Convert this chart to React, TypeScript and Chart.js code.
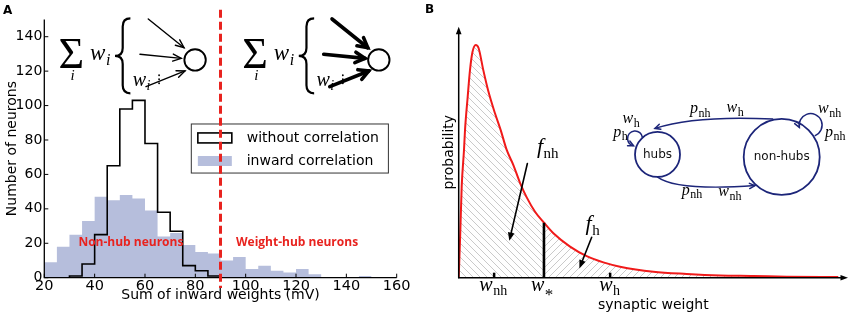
import React, { useEffect, useRef } from "react";
import { Chart, registerables } from "chart.js";
Chart.register(...registerables);

// ---------------- Panel A data ----------------
const binStarts = [20, 25, 30, 35, 40, 45, 50, 55, 60, 65, 70, 75, 80, 85, 90, 95, 100, 105, 110, 115, 120, 125, 130, 135, 140, 145];
const BIN_WIDTH = 5;
const withoutCorrelation = [0, 0, 1, 8, 25, 65, 98, 103, 78, 38, 27, 7, 4, 1, 0, 0, 0, 0, 0, 0, 0, 0, 0, 0, 0, 0];
const inwardCorrelation = [9, 18, 25, 33, 47, 45, 48, 46, 39, 24, 26, 19, 15, 14, 10, 12, 5, 7, 4, 3, 5, 2, 0, 0, 0, 1];
const xTicksA = [20, 40, 60, 80, 100, 120, 140, 160];
const yTicksA = [0, 20, 40, 60, 80, 100, 120, 140];
const hubThreshold = 90;

// ---------------- Panel B data ----------------
const synapticWeight = [0, 0.04, 0.077, 0.136, 0.162, 0.231, 0.29, 0.354, 0.437, 0.51, 0.632, 0.753, 0.932, 1.079, 1.233, 1.404, 1.575, 1.747, 1.961, 2.19, 2.432, 2.86, 3.288, 3.716, 4.144, 5.0, 5.856, 6.712, 7.568, 8.425, 9.75];
const probabilityDensity = [0, 0.178, 0.363, 0.509, 0.588, 0.721, 0.827, 0.899, 0.927, 0.915, 0.827, 0.748, 0.655, 0.588, 0.509, 0.449, 0.378, 0.32, 0.263, 0.219, 0.177, 0.124, 0.086, 0.061, 0.044, 0.024, 0.015, 0.009, 0.007, 0.004, 0.003];
const wNh = 0.91;
const wStar = 2.19;
const wH = 3.89;

const SANS = '"DejaVu Sans", sans-serif';
const SERIF = '"Liberation Serif", "DejaVu Serif", serif';
const RED = "#e8231f";
const NAVY = "#1c2579";
const SHADE = "#b6bedc";

function stepPoints(values: number[]) {
  const pts = binStarts.map((x, i) => ({ x, y: values[i] }));
  pts.push({ x: binStarts[binStarts.length - 1] + BIN_WIDTH, y: values[values.length - 1] });
  return pts;
}

function drawMath(
  ctx: CanvasRenderingContext2D, x: number, y: number, base: string, sub: string,
  size: number, subSize: number, color = "#000", subItalic = false, subDrop = 0.22
) {
  ctx.save();
  ctx.fillStyle = color;
  ctx.textAlign = "left";
  ctx.textBaseline = "alphabetic";
  ctx.font = `italic ${size}px ${SERIF}`;
  ctx.fillText(base, x, y);
  const w = ctx.measureText(base).width;
  if (sub) {
    ctx.font = `${subItalic ? "italic " : ""}${subSize}px ${SERIF}`;
    ctx.fillText(sub, x + w + 0.5, y + size * subDrop);
  }
  ctx.restore();
}

type ArrowOpt = { width: number; head: number; spread: number; color: string; filled: boolean };

function drawHead(ctx: CanvasRenderingContext2D, x2: number, y2: number, a: number, opt: ArrowOpt) {
  const p1x = x2 - opt.head * Math.cos(a - opt.spread);
  const p1y = y2 - opt.head * Math.sin(a - opt.spread);
  const p2x = x2 - opt.head * Math.cos(a + opt.spread);
  const p2y = y2 - opt.head * Math.sin(a + opt.spread);
  ctx.save();
  ctx.strokeStyle = opt.color;
  ctx.fillStyle = opt.color;
  ctx.lineWidth = opt.width;
  ctx.lineCap = "round";
  ctx.beginPath();
  ctx.moveTo(p1x, p1y);
  ctx.lineTo(x2, y2);
  ctx.lineTo(p2x, p2y);
  if (opt.filled) {
    ctx.closePath();
    ctx.fill();
  } else {
    ctx.stroke();
  }
  ctx.restore();
}

function arrow(ctx: CanvasRenderingContext2D, x1: number, y1: number, x2: number, y2: number, opt: ArrowOpt) {
  const a = Math.atan2(y2 - y1, x2 - x1);
  ctx.save();
  ctx.strokeStyle = opt.color;
  ctx.lineWidth = opt.width;
  ctx.lineCap = "round";
  const ex = opt.filled ? x2 - Math.cos(a) * opt.head * 0.7 : x2;
  const ey = opt.filled ? y2 - Math.sin(a) * opt.head * 0.7 : y2;
  ctx.beginPath();
  ctx.moveTo(x1, y1);
  ctx.lineTo(ex, ey);
  ctx.stroke();
  ctx.restore();
  drawHead(ctx, x2, y2, a, opt);
}

function brace(ctx: CanvasRenderingContext2D, xTip: number, xArm: number, yTop: number, yBot: number) {
  const xm = (xTip + xArm) / 2;
  const ym = (yTop + yBot) / 2;
  const r = 8;
  ctx.save();
  ctx.strokeStyle = "#000";
  ctx.lineWidth = 2.2;
  ctx.beginPath();
  ctx.moveTo(xArm, yTop);
  ctx.quadraticCurveTo(xm, yTop, xm, yTop + r);
  ctx.lineTo(xm, ym - r);
  ctx.quadraticCurveTo(xm, ym, xTip, ym);
  ctx.quadraticCurveTo(xm, ym, xm, ym + r);
  ctx.lineTo(xm, yBot - r);
  ctx.quadraticCurveTo(xm, yBot, xArm, yBot);
  ctx.stroke();
  ctx.restore();
}

function hatchPattern(ctx: CanvasRenderingContext2D, dir: "back" | "fwd") {
  const c = document.createElement("canvas");
  const n = 7;
  c.width = n;
  c.height = n;
  const g = c.getContext("2d")!;
  g.strokeStyle = "#bdbdbd";
  g.lineWidth = 0.8;
  g.beginPath();
  if (dir === "back") {
    g.moveTo(-1, -1); g.lineTo(n + 1, n + 1);
    g.moveTo(-1, n - 1); g.lineTo(1, n + 1);
    g.moveTo(n - 1, -1); g.lineTo(n + 1, 1);
  } else {
    g.moveTo(-1, n + 1); g.lineTo(n + 1, -1);
    g.moveTo(-1, 1); g.lineTo(1, -1);
    g.moveTo(n - 1, n + 1); g.lineTo(n + 1, n - 1);
  }
  g.stroke();
  return ctx.createPattern(c, "repeat")!;
}

// ---------------- Panel A decorations ----------------
const decorA = {
  id: "decorA",
  afterDraw(chart: any) {
    const ctx: CanvasRenderingContext2D = chart.ctx;
    const sx = chart.scales.x;
    const sy = chart.scales.y;
    const X = (v: number) => sx.getPixelForValue(v);
    const Y = (v: number) => sy.getPixelForValue(v);
    ctx.save();
    // spines
    ctx.strokeStyle = "#000";
    ctx.lineWidth = 1.3;
    ctx.beginPath();
    ctx.moveTo(X(20), Y(150));
    ctx.lineTo(X(20), Y(0));
    ctx.lineTo(X(160), Y(0));
    ctx.stroke();
    ctx.lineWidth = 1;
    ctx.beginPath();
    xTicksA.forEach((v) => { ctx.moveTo(X(v), Y(0)); ctx.lineTo(X(v), Y(0) - 4); });
    yTicksA.forEach((v) => { ctx.moveTo(X(20), Y(v)); ctx.lineTo(X(20) + 4, Y(v)); });
    ctx.stroke();

    // schematic formulas
    const shifts = [0, 73];
    shifts.forEach((dx, k) => {
      ctx.fillStyle = "#000";
      ctx.font = `44px ${SERIF}`;
      ctx.textAlign = "left";
      ctx.textBaseline = "alphabetic";
      ctx.fillText("\u03A3", X(25.6 + dx), Y(121.8));
      ctx.font = `italic 15px ${SERIF}`;
      ctx.textAlign = "center";
      ctx.fillText("i", X(31.2 + dx), Y(114.6));
      drawMath(ctx, X(38.2 + dx), Y(126.5), "w", "i", 23, 16, "#000", true, 0.2);
      brace(ctx, X(48.1 + dx), X(54.2 + dx), Y(150.6), Y(107.1));
      drawMath(ctx, X(55.1 + dx), Y(111.2), "w", "i", 20, 14, "#000", true, 0.2);
      ctx.fillStyle = "#000";
      [0, 1, 2].forEach((j) => {
        ctx.beginPath();
        ctx.arc(X(65.6 + dx), Y(117.6) + j * 4, 0.9, 0, Math.PI * 2);
        ctx.fill();
      });
      const thick = k === 1;
      const opt = thick
        ? { width: 3.6, head: 11, spread: 0.5, color: "#000", filled: false }
        : { width: 1.4, head: 9, spread: 0.4, color: "#000", filled: false };
      const arrows = [
        [61.3, 150.3, 75.5, 133.6],
        [58.0, 129.8, 74.4, 127.4],
        [60.4, 111.0, 75.9, 120.1],
      ];
      arrows.forEach(([a, b, c, d]) => arrow(ctx, X(a + dx), Y(b), X(c + dx), Y(d), opt));
      ctx.strokeStyle = "#000";
      ctx.lineWidth = 1.9;
      ctx.beginPath();
      ctx.arc(X(79.9 + dx), Y(126.5), 10.7, 0, Math.PI * 2);
      ctx.stroke();
    });

    // legend
    const lx0 = X(78.4), lx1 = X(156.7), ly0 = Y(89.3), ly1 = Y(60.8);
    ctx.fillStyle = "#fff";
    ctx.fillRect(lx0, ly0, lx1 - lx0, ly1 - ly0);
    ctx.strokeStyle = "#333";
    ctx.lineWidth = 1;
    ctx.strokeRect(lx0, ly0, lx1 - lx0, ly1 - ly0);
    ctx.lineWidth = 1.6;
    ctx.strokeStyle = "#000";
    ctx.strokeRect(X(81.0), Y(84.1), X(94.5) - X(81.0), Y(78.3) - Y(84.1));
    ctx.fillStyle = SHADE;
    ctx.fillRect(X(81.0), Y(70.7), X(94.5) - X(81.0), Y(64.9) - Y(70.7));
    ctx.fillStyle = "#000";
    ctx.font = `14px ${SANS}`;
    ctx.textAlign = "left";
    ctx.textBaseline = "middle";
    ctx.fillText("without correlation", X(100.4), Y(81.2));
    ctx.fillText("inward correlation", X(100.4), Y(67.8));

    // red labels
    ctx.fillStyle = RED;
    ctx.font = `bold 12px "Open Sans", ${SANS}`;
    ctx.textAlign = "center";
    ctx.fillText("Non-hub neurons", X(54.4), Y(20.2));
    ctx.fillText("Weight-hub neurons", X(120.4), Y(20.2));

    // threshold line
    ctx.strokeStyle = RED;
    ctx.lineWidth = 3;
    ctx.setLineDash([8, 4]);
    ctx.beginPath();
    ctx.moveTo(X(hubThreshold), Y(155.6));
    ctx.lineTo(X(hubThreshold), Y(-6));
    ctx.stroke();
    ctx.setLineDash([]);

    // panel letter
    ctx.fillStyle = "#000";
    ctx.font = `bold 12px ${SANS}`;
    ctx.textAlign = "left";
    ctx.textBaseline = "alphabetic";
    ctx.fillText("A", 3, 14);
    ctx.restore();
  },
};

// ---------------- Panel B decorations ----------------
const decorB = {
  id: "decorB",
  afterDraw(chart: any) {
    const ctx: CanvasRenderingContext2D = chart.ctx;
    const sx = chart.scales.x;
    const sy = chart.scales.y;
    const X = (v: number) => sx.getPixelForValue(v);
    const Y = (v: number) => sy.getPixelForValue(v);
    ctx.save();
    // axes with arrows
    const axOpt = { width: 1.5, head: 8, spread: 0.36, color: "#000", filled: true };
    arrow(ctx, X(0), Y(0), X(0), Y(1), axOpt);
    arrow(ctx, X(0), Y(0), X(10), Y(0), axOpt);
    // tick marks
    ctx.fillStyle = "#000";
    [wNh, wH].forEach((w) => ctx.fillRect(X(w) - 1.25, Y(0) - 5, 2.5, 5));
    // tick labels
    drawMath(ctx, X(0.53), Y(-0.052), "w", "nh", 20, 14);
    drawMath(ctx, X(1.857), Y(-0.052), "w", "*", 20, 17, "#000", false, 0.46);
    drawMath(ctx, X(3.61), Y(-0.052), "w", "h", 20, 14);
    // f labels + arrows
    drawMath(ctx, X(2.01), Y(0.498), "f", "nh", 22, 15);
    drawMath(ctx, X(3.26), Y(0.19), "f", "h", 22, 15);
    const fOpt = { width: 1.6, head: 9, spread: 0.38, color: "#000", filled: true };
    arrow(ctx, X(1.764), Y(0.455), X(1.3), Y(0.147), fOpt);
    arrow(ctx, X(3.416), Y(0.161), X(3.1), Y(0.037), fOpt);

    // network inset
    ctx.strokeStyle = NAVY;
    ctx.lineWidth = 1.8;
    ctx.beginPath();
    ctx.arc(X(5.107), Y(0.491), 22.5, 0, Math.PI * 2);
    ctx.stroke();
    ctx.beginPath();
    ctx.arc(X(8.297), Y(0.481), 38, 0, Math.PI * 2);
    ctx.stroke();
    ctx.fillStyle = "#111";
    ctx.font = `12px ${SANS}`;
    ctx.textAlign = "center";
    ctx.textBaseline = "middle";
    ctx.fillText("hubs", X(5.107), Y(0.491));
    ctx.fillText("non-hubs", X(8.297), Y(0.481));

    const nOpt = { width: 1.5, head: 6, spread: 0.45, color: NAVY, filled: false };
    ctx.lineWidth = 1.5;
    ctx.strokeStyle = NAVY;
    // top curved arrow: non-hubs -> hubs
    {
      const x1 = X(8.08), y1 = Y(0.632), cx = X(6.1), cy = Y(0.648), x2 = X(5.04), y2 = Y(0.595);
      ctx.beginPath();
      ctx.moveTo(x1, y1);
      ctx.quadraticCurveTo(cx, cy, x2, y2);
      ctx.stroke();
      drawHead(ctx, x2, y2, Math.atan2(y2 - cy, x2 - cx), nOpt);
    }
    // bottom curved arrow: hubs -> non-hubs
    {
      const x1 = X(5.1), y1 = Y(0.402), cx = X(5.6), cy = Y(0.345), x2 = X(7.61), y2 = Y(0.367);
      ctx.beginPath();
      ctx.moveTo(x1, y1);
      ctx.quadraticCurveTo(cx, cy, x2, y2);
      ctx.stroke();
      drawHead(ctx, x2, y2, Math.atan2(y2 - cy, x2 - cx), nOpt);
    }
    // self loops
    {
      const cx = X(4.53), cy = Y(0.555), r = 7.5;
      ctx.beginPath();
      ctx.arc(cx, cy, r, -0.1, Math.PI / 2 + 0.2, true);
      ctx.stroke();
      const ang = Math.PI / 2 + 0.2;
      drawHead(ctx, cx + r * Math.cos(ang), cy + r * Math.sin(ang), ang - Math.PI / 2 + 0.25, nOpt);
    }
    {
      const cx = X(9.04), cy = Y(0.608), r = 11.5;
      ctx.beginPath();
      ctx.arc(cx, cy, r, Math.PI / 2.6, Math.PI - 0.2, true);
      ctx.stroke();
      const ang = Math.PI - 0.2;
      drawHead(ctx, cx + r * Math.cos(ang), cy + r * Math.sin(ang), ang - Math.PI / 2 - 0.25, nOpt);
    }
    drawMath(ctx, X(5.94), Y(0.655), "p", "nh", 16, 12);
    drawMath(ctx, X(6.88), Y(0.659), "w", "h", 16, 12);
    drawMath(ctx, X(9.23), Y(0.656), "w", "nh", 16, 12);
    drawMath(ctx, X(9.41), Y(0.561), "p", "nh", 16, 12);
    drawMath(ctx, X(4.21), Y(0.615), "w", "h", 16, 12);
    drawMath(ctx, X(3.97), Y(0.562), "p", "h", 16, 12);
    drawMath(ctx, X(5.73), Y(0.33), "p", "nh", 16, 12);
    drawMath(ctx, X(6.67), Y(0.325), "w", "nh", 16, 12);

    // panel letter
    ctx.fillStyle = "#000";
    ctx.font = `bold 12px ${SANS}`;
    ctx.textAlign = "left";
    ctx.textBaseline = "alphabetic";
    ctx.fillText("B", 5, 13);
    ctx.restore();
  },
};

export default function App() {
  const refA = useRef<HTMLCanvasElement>(null);
  const refB = useRef<HTMLCanvasElement>(null);

  useEffect(() => {
    const chartA = new Chart(refA.current!, {
      type: "line",
      data: {
        datasets: [
          {
            label: "inward correlation",
            data: stepPoints(inwardCorrelation),
            stepped: "before",
            fill: "origin",
            backgroundColor: SHADE,
            borderColor: "rgba(0,0,0,0)",
            borderWidth: 0,
            pointRadius: 0,
            order: 2,
          },
          {
            label: "without correlation",
            data: stepPoints(withoutCorrelation),
            stepped: "before",
            fill: false,
            borderColor: "#000",
            borderWidth: 1.6,
            pointRadius: 0,
            order: 1,
          },
        ],
      } as any,
      options: {
        responsive: false,
        animation: false,
        layout: { padding: { left: 0, top: 19.5, right: 23.3, bottom: 10 } },
        plugins: { legend: { display: false }, tooltip: { enabled: false } },
        scales: {
          x: {
            type: "linear",
            min: 20,
            max: 160,
            afterFit: (s: any) => { s.height = 28.3; },
            grid: { display: false, drawTicks: false },
            border: { display: false },
            ticks: { stepSize: 20, color: "#000", font: { family: SANS, size: 14.5 }, padding: 0, maxRotation: 0 },
            title: { display: true, text: "Sum of inward weights (mV)", color: "#000", font: { family: SANS, size: 14 }, padding: { top: 0, bottom: 2.5 } },
          },
          y: {
            type: "linear",
            min: 0,
            max: 150,
            afterFit: (s: any) => { s.width = 44.3; },
            grid: { display: false, drawTicks: false },
            border: { display: false },
            ticks: { stepSize: 20, includeBounds: false, color: "#000", font: { family: SANS, size: 14 }, padding: 2 },
            title: { display: true, text: "Number of neurons", color: "#000", font: { family: SANS, size: 14 }, padding: { top: 4, bottom: 4 } },
          },
        },
      } as any,
      plugins: [decorA],
    });

    const ctxB = refB.current!.getContext("2d")!;
    const patLeft = hatchPattern(ctxB, "back");
    const patRight = hatchPattern(ctxB, "fwd");
    const curve = synapticWeight.map((w, i) => ({ x: w, y: probabilityDensity[i] }));
    const leftPart = curve.filter((p) => p.x <= wStar);
    const rightPart = curve.filter((p) => p.x >= wStar);
    const pStar = probabilityDensity[synapticWeight.indexOf(wStar)];

    const chartB = new Chart(refB.current!, {
      type: "line",
      data: {
        datasets: [
          { data: rightPart, fill: "origin", backgroundColor: patRight, borderWidth: 0, borderColor: "rgba(0,0,0,0)", pointRadius: 0, cubicInterpolationMode: "monotone", order: 4 },
          { data: leftPart, fill: "origin", backgroundColor: patLeft, borderWidth: 0, borderColor: "rgba(0,0,0,0)", pointRadius: 0, cubicInterpolationMode: "monotone", order: 3 },
          { data: curve, fill: false, borderColor: "#f01a1a", borderWidth: 2, pointRadius: 0, cubicInterpolationMode: "monotone", order: 2 },
          { data: [{ x: wStar, y: 0 }, { x: wStar, y: pStar }], fill: false, borderColor: "#000", borderWidth: 2.6, pointRadius: 0, order: 1 },
        ],
      } as any,
      options: {
        responsive: false,
        animation: false,
        layout: { padding: { left: 17, top: 26.7, right: 3, bottom: 0 } },
        plugins: { legend: { display: false }, tooltip: { enabled: false } },
        scales: {
          x: {
            type: "linear",
            min: 0,
            max: 10,
            afterFit: (s: any) => { s.height = 38.3; },
            grid: { display: false, drawTicks: false },
            border: { display: false },
            ticks: { display: false },
            title: { display: true, text: "synaptic weight", color: "#000", font: { family: SANS, size: 14 }, padding: { top: 0, bottom: 2.5 } },
          },
          y: {
            type: "linear",
            min: 0,
            max: 1,
            afterFit: (s: any) => { s.width = 21.7; },
            grid: { display: false, drawTicks: false },
            border: { display: false },
            ticks: { display: false },
            title: { display: true, text: "probability", color: "#000", font: { family: SANS, size: 14 }, padding: { top: 4, bottom: 0 } },
          },
        },
      } as any,
      plugins: [decorB],
    });

    return () => {
      chartA.destroy();
      chartB.destroy();
    };
  }, []);

  return (
    <div style={{ position: "absolute", left: 0, top: 0, width: 851, height: 316, background: "#fff" }}>
      <canvas ref={refA} width={420} height={316} style={{ position: "absolute", left: 0, top: 0 }} />
      <canvas ref={refB} width={431} height={316} style={{ position: "absolute", left: 420, top: 0 }} />
    </div>
  );
}
